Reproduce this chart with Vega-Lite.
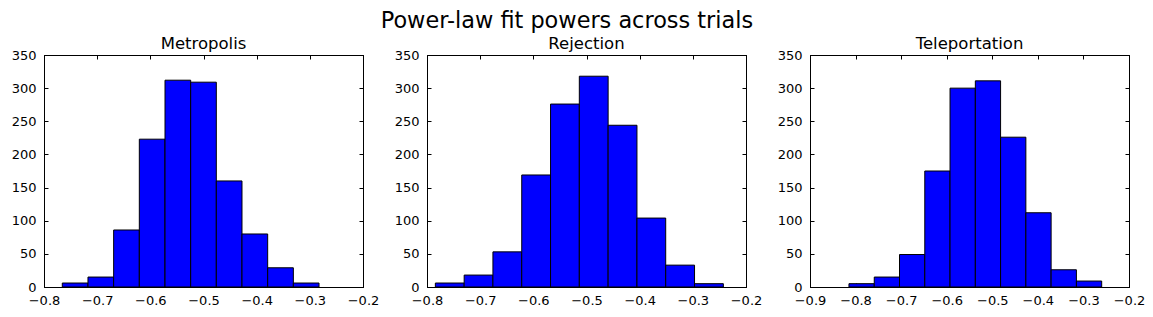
{
  "$schema": "https://vega.github.io/schema/vega-lite/v6.json",
  "background": "white",
  "padding": {"left": 10, "top": 9, "right": 0, "bottom": 0},
  "bounds": "flush",
  "spacing": 64,
  "title": {"text": "Power-law fit powers across trials", "fontSize": 22.4, "fontWeight": "normal", "font": "DejaVu Sans", "anchor": "start", "dx": 370, "color": "black", "offset": 3},
  "config": {
    "font": "DejaVu Sans",
    "view": {"stroke": "black", "strokeWidth": 1},
    "title": {"fontSize": 16.5, "fontWeight": "normal", "font": "DejaVu Sans", "color": "black", "offset": -3},
    "axis": {"grid": false, "domainColor": "black", "domainWidth": 1, "tickColor": "black", "tickWidth": 1, "labelColor": "black", "labelFont": "DejaVu Sans", "labelFontSize": 13, "title": null, "labelFlush": false, "labelOverlap": false}
  },
  "datasets": {
    "metropolis": [
      {"lo": -0.7656, "hi": -0.7173, "count": 6},
      {"lo": -0.7173, "hi": -0.6690, "count": 15},
      {"lo": -0.6690, "hi": -0.6207, "count": 86},
      {"lo": -0.6207, "hi": -0.5724, "count": 223},
      {"lo": -0.5724, "hi": -0.5241, "count": 312},
      {"lo": -0.5241, "hi": -0.4759, "count": 309},
      {"lo": -0.4759, "hi": -0.4276, "count": 160},
      {"lo": -0.4276, "hi": -0.3793, "count": 80},
      {"lo": -0.3793, "hi": -0.3310, "count": 29},
      {"lo": -0.3310, "hi": -0.2827, "count": 6}
    ],
    "rejection": [
      {"lo": -0.7843, "hi": -0.7301, "count": 6},
      {"lo": -0.7301, "hi": -0.6760, "count": 18},
      {"lo": -0.6760, "hi": -0.6218, "count": 53},
      {"lo": -0.6218, "hi": -0.5676, "count": 169},
      {"lo": -0.5676, "hi": -0.5135, "count": 276},
      {"lo": -0.5135, "hi": -0.4593, "count": 318},
      {"lo": -0.4593, "hi": -0.4051, "count": 244},
      {"lo": -0.4051, "hi": -0.3510, "count": 104},
      {"lo": -0.3510, "hi": -0.2968, "count": 33},
      {"lo": -0.2968, "hi": -0.2426, "count": 5}
    ],
    "teleportation": [
      {"lo": -0.8145, "hi": -0.7590, "count": 5},
      {"lo": -0.7590, "hi": -0.7036, "count": 15},
      {"lo": -0.7036, "hi": -0.6481, "count": 49},
      {"lo": -0.6481, "hi": -0.5927, "count": 175},
      {"lo": -0.5927, "hi": -0.5372, "count": 300},
      {"lo": -0.5372, "hi": -0.4818, "count": 311},
      {"lo": -0.4818, "hi": -0.4263, "count": 226},
      {"lo": -0.4263, "hi": -0.3709, "count": 112},
      {"lo": -0.3709, "hi": -0.3154, "count": 26},
      {"lo": -0.3154, "hi": -0.2599, "count": 9}
    ]
  },
  "hconcat": [
    {
      "width": 319, "height": 232,
      "title": "Metropolis",
      "data": {"name": "metropolis"},
      "layer": [
        {"mark": {"type": "bar", "fill": "#0000ff", "stroke": "black", "strokeWidth": 1},
         "encoding": {
           "x": {"field": "lo", "type": "quantitative", "scale": {"domain": [-0.8, -0.2], "nice": false, "zero": false}, "axis": {"orient": "bottom", "values": [-0.8, -0.7, -0.6, -0.5, -0.4, -0.3, -0.2], "format": ".1f", "tickSize": -4, "labelPadding": 11}},
           "x2": {"field": "hi"},
           "y": {"field": "count", "type": "quantitative", "scale": {"domain": [0, 350], "nice": false}, "axis": {"orient": "left", "values": [0, 50, 100, 150, 200, 250, 300, 350], "tickSize": -4, "labelPadding": 12}},
           "y2": {"datum": 0}
         }},
        {"mark": {"type": "bar", "opacity": 0},
         "encoding": {
           "x": {"field": "lo", "type": "quantitative", "scale": {"domain": [-0.8, -0.2], "nice": false, "zero": false}, "axis": {"orient": "top", "values": [-0.8, -0.7, -0.6, -0.5, -0.4, -0.3, -0.2], "labels": false, "tickSize": -4}},
           "x2": {"field": "hi"},
           "y": {"field": "count", "type": "quantitative", "scale": {"domain": [0, 350], "nice": false}, "axis": {"orient": "right", "values": [0, 50, 100, 150, 200, 250, 300, 350], "labels": false, "tickSize": -4}},
           "y2": {"datum": 0}
         }}
      ],
      "resolve": {"axis": {"x": "independent", "y": "independent"}}
    },
    {
      "width": 319, "height": 232,
      "title": "Rejection",
      "data": {"name": "rejection"},
      "layer": [
        {"mark": {"type": "bar", "fill": "#0000ff", "stroke": "black", "strokeWidth": 1},
         "encoding": {
           "x": {"field": "lo", "type": "quantitative", "scale": {"domain": [-0.8, -0.2], "nice": false, "zero": false}, "axis": {"orient": "bottom", "values": [-0.8, -0.7, -0.6, -0.5, -0.4, -0.3, -0.2], "format": ".1f", "tickSize": -4, "labelPadding": 11}},
           "x2": {"field": "hi"},
           "y": {"field": "count", "type": "quantitative", "scale": {"domain": [0, 350], "nice": false}, "axis": {"orient": "left", "values": [0, 50, 100, 150, 200, 250, 300, 350], "tickSize": -4, "labelPadding": 12}},
           "y2": {"datum": 0}
         }},
        {"mark": {"type": "bar", "opacity": 0},
         "encoding": {
           "x": {"field": "lo", "type": "quantitative", "scale": {"domain": [-0.8, -0.2], "nice": false, "zero": false}, "axis": {"orient": "top", "values": [-0.8, -0.7, -0.6, -0.5, -0.4, -0.3, -0.2], "labels": false, "tickSize": -4}},
           "x2": {"field": "hi"},
           "y": {"field": "count", "type": "quantitative", "scale": {"domain": [0, 350], "nice": false}, "axis": {"orient": "right", "values": [0, 50, 100, 150, 200, 250, 300, 350], "labels": false, "tickSize": -4}},
           "y2": {"datum": 0}
         }}
      ],
      "resolve": {"axis": {"x": "independent", "y": "independent"}}
    },
    {
      "width": 319, "height": 232,
      "title": "Teleportation",
      "data": {"name": "teleportation"},
      "layer": [
        {"mark": {"type": "bar", "fill": "#0000ff", "stroke": "black", "strokeWidth": 1},
         "encoding": {
           "x": {"field": "lo", "type": "quantitative", "scale": {"domain": [-0.9, -0.2], "nice": false, "zero": false}, "axis": {"orient": "bottom", "values": [-0.9, -0.8, -0.7, -0.6, -0.5, -0.4, -0.3, -0.2], "format": ".1f", "tickSize": -4, "labelPadding": 11}},
           "x2": {"field": "hi"},
           "y": {"field": "count", "type": "quantitative", "scale": {"domain": [0, 350], "nice": false}, "axis": {"orient": "left", "values": [0, 50, 100, 150, 200, 250, 300, 350], "tickSize": -4, "labelPadding": 12}},
           "y2": {"datum": 0}
         }},
        {"mark": {"type": "bar", "opacity": 0},
         "encoding": {
           "x": {"field": "lo", "type": "quantitative", "scale": {"domain": [-0.9, -0.2], "nice": false, "zero": false}, "axis": {"orient": "top", "values": [-0.9, -0.8, -0.7, -0.6, -0.5, -0.4, -0.3, -0.2], "labels": false, "tickSize": -4}},
           "x2": {"field": "hi"},
           "y": {"field": "count", "type": "quantitative", "scale": {"domain": [0, 350], "nice": false}, "axis": {"orient": "right", "values": [0, 50, 100, 150, 200, 250, 300, 350], "labels": false, "tickSize": -4}},
           "y2": {"datum": 0}
         }}
      ],
      "resolve": {"axis": {"x": "independent", "y": "independent"}}
    }
  ]
}
